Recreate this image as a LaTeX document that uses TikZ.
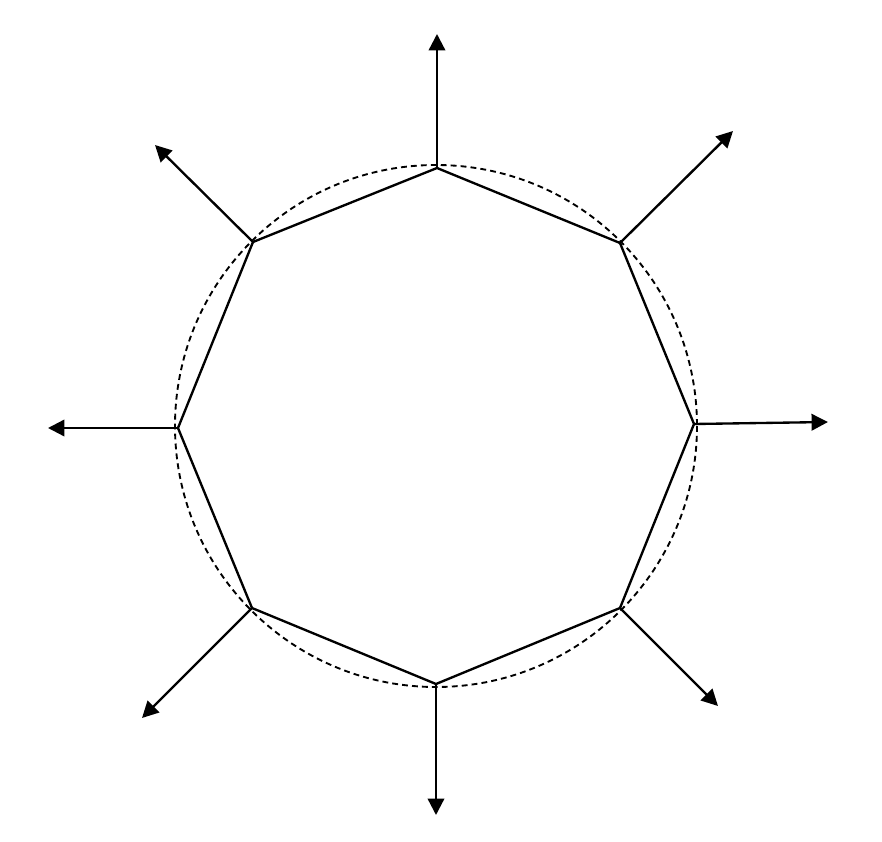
\documentclass[tikz,border=0pt]{standalone}
\usepackage{tikz}
\usetikzlibrary{arrows.meta,calc}

\begin{document}
\begin{tikzpicture}[
	%	style def
    x=0.03cm, y=-0.03cm,
    important line/.style={line width=2pt, line join=miter},
    normal arrow/.style={line width=2pt, -{Triangle[length=14pt,width=14pt]}},
    guide circle/.style={line width=1.6pt, dash pattern=on 5pt off 3.5pt}
    ]
    \useasboundingbox (0,0) rectangle (882,842);

	% octagon corners
	\coordinate (T) at (437,168);
	\coordinate (TR) at (620,243);
	\coordinate (R) at (694,424);
	\coordinate (BR) at (620,608);
	\coordinate (B) at (436,684);
	\coordinate (BL) at (252,608);
	\coordinate (L) at (178,428);
	\coordinate (TL) at (253,242);

	% dashed circle around the octagon
	\draw[guide circle] (436,426) coordinate (M) circle (261);

	% octagon
	\draw[important line] (T) -- (TR) -- (R) -- (BR) -- (B) -- (BL) -- (L) -- (TL) -- cycle;

	% arrows pointing outwards
	\draw[normal arrow] (T) -- (437,34) coordinate (T');
	\draw[normal arrow] (TR) -- (733,131) coordinate (TR');
	\draw[normal arrow] (R) -- (828,422) coordinate (R');
	\draw[normal arrow] (BR) -- (718,706) coordinate (BR');
	\draw[normal arrow] (B) -- (436,815) coordinate (B');
	\draw[normal arrow] (BL) -- (142,718) coordinate (BL');
	\draw[normal arrow] (L) -- (48,428) coordinate (L');
	\draw[normal arrow] (TL) -- (155,145) coordinate (TL');
\end{tikzpicture}
\end{document}
